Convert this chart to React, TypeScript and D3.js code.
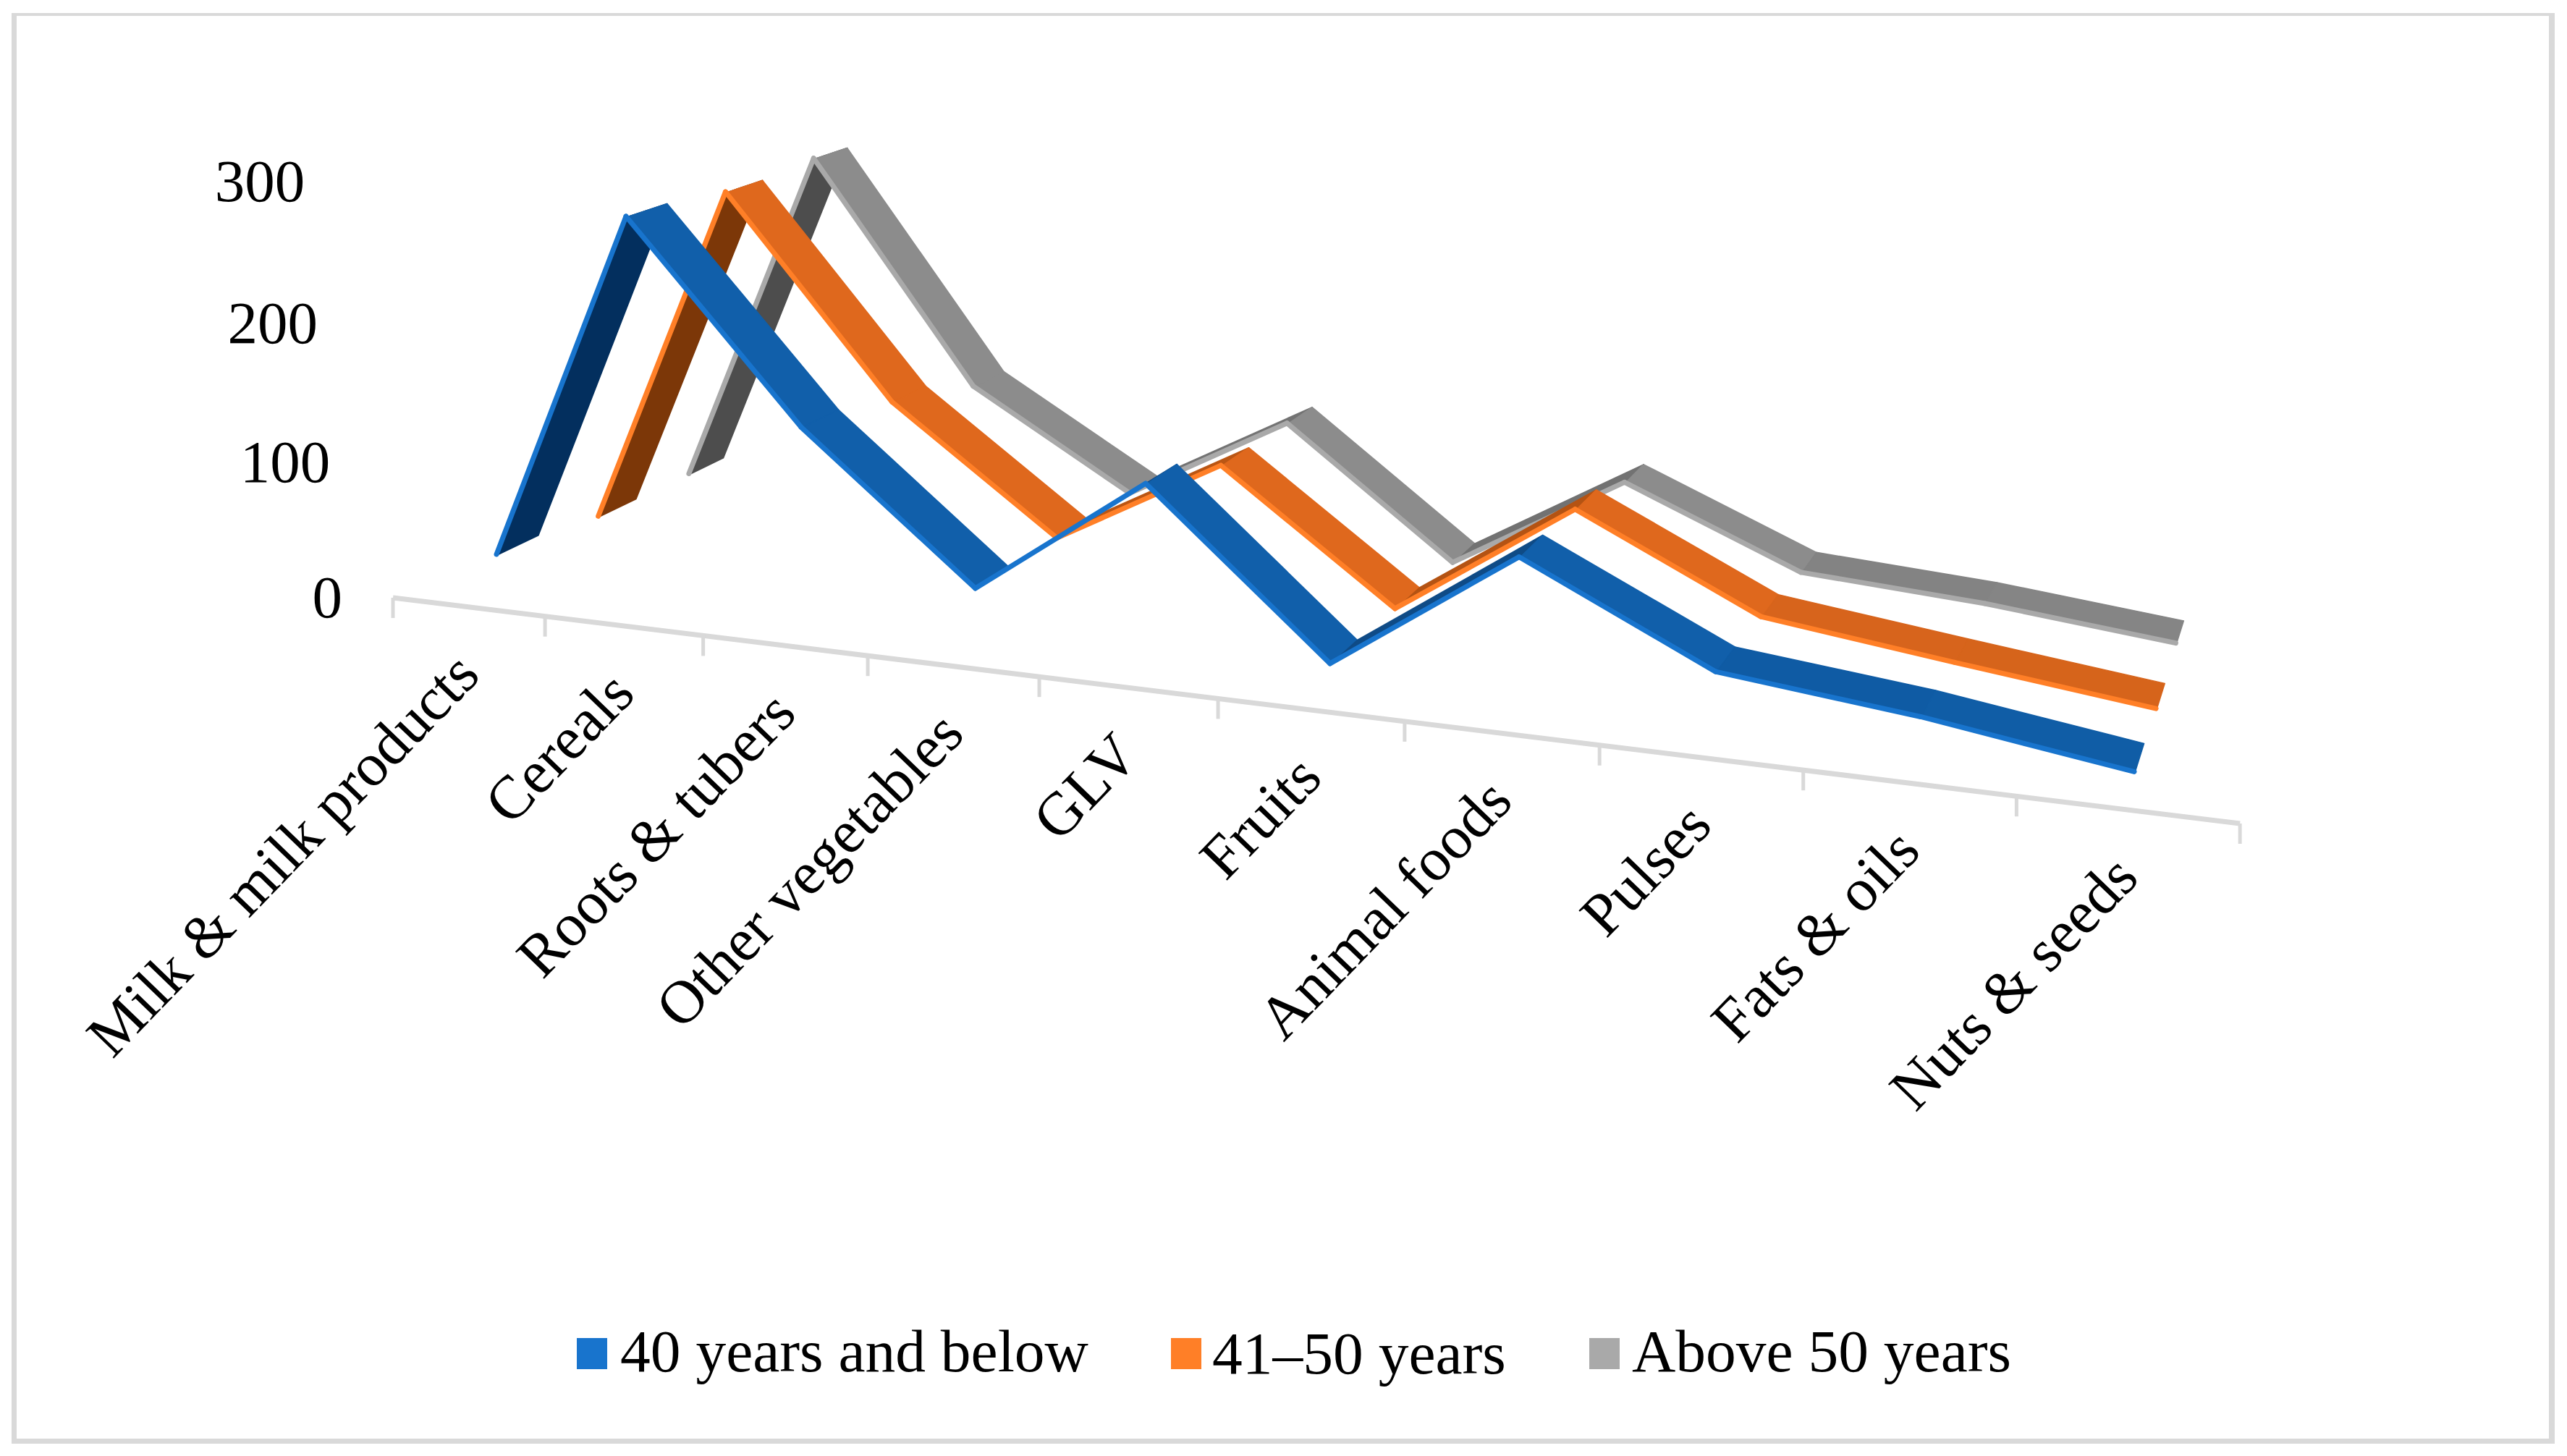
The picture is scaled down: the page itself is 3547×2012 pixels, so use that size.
import React from 'react';
import * as d3 from 'd3';

const categories = ['Milk & milk products', 'Cereals', 'Roots & tubers', 'Other vegetables', 'GLV', 'Fruits', 'Animal foods', 'Pulses', 'Fats & oils', 'Nuts & seeds'];
const under40 = [27, 280, 143, 42, 127, 18, 103, 42, 28, 9];
const from41to50 = [19, 274, 129, 40, 105, 15, 98, 37, 20, 4];
const above50 = [18, 277, 110, 38, 103, 10, 82, 29, 20, 6];
const valueTicks = [0, 100, 200, 300];

const W = 3547;
const H = 2012;

// hand fitted camera for the tilted chart: x = category, y = value, z = depth
const cam = {
  a: [543, 195.6, -0.2288, 72.7],
  b: [826, 9.28, -1.945, -11.76],
  c: [1, -0.01926, -0.0001144, 0.021],
};
const project = (x: number, y: number, z: number): [number, number] => {
  const w = cam.c[0] + cam.c[1] * x + cam.c[2] * y + cam.c[3] * z;
  return [
    (cam.a[0] + cam.a[1] * x + cam.a[2] * y + cam.a[3] * z) / w,
    (cam.b[0] + cam.b[1] * x + cam.b[2] * y + cam.b[3] * z) / w,
  ];
};

const xCat = d3.scaleBand<string>().domain(categories).range([0, categories.length]);

const series = [
  { name: 'Above 50 years', values: above50, z: 5.79, edge: '#A9A9A9', shades: ['#8C8C8C', '#8C8C8C', '#848484', '#6E6E6E', '#4D4D4D'] },
  { name: '41–50 years', values: from41to50, z: 3.28, edge: '#FF7F27', shades: ['#DF681D', '#DF681D', '#D4631B', '#B25212', '#7A3608'] },
  { name: '40 years and below', values: under40, z: 0.75, edge: '#1874CD', shades: ['#115FAA', '#115FAA', '#0F5BA3', '#0F4A85', '#032E5C'] },
];
const riseDomain = [-140, -30, -12, 90, 260];

const line = d3.line<[number, number]>();

const legendItems = [
  { name: '40 years and below', box: 797, text: 857, base: 1895, color: '#1874CD' },
  { name: '41–50 years', box: 1618, text: 1675, base: 1898, color: '#FF7F27' },
  { name: 'Above 50 years', box: 2196, text: 2255, base: 1895, color: '#A9A9A9' },
];

function Ribbon({ s }: { s: (typeof series)[number] }) {
  const shade = d3.scaleLinear<string>().domain(riseDomain).range(s.shades).clamp(true);
  const bw = xCat.bandwidth();
  const px = (i: number) => (xCat(categories[i]) as number) + bw / 2;
  return (
    <g>
      {s.values.slice(1).map((v, k) => {
        const y0 = s.values[k];
        const f0 = project(px(k), y0, s.z);
        const f1 = project(px(k + 1), v, s.z);
        const b0 = project(px(k), y0, s.z + 1);
        const b1 = project(px(k + 1), v, s.z + 1);
        const c = shade(v - y0);
        return (
          <g key={k}>
            <path d={line([f0, f1, b1, b0]) + 'Z'} fill={c} stroke={c} strokeWidth={1.5} strokeLinejoin="round" />
            <path d={line([f0, f1]) as string} fill="none" stroke={s.edge} strokeWidth={7} strokeLinecap="round" transform="translate(-1,-1)" />
          </g>
        );
      })}
    </g>
  );
}

export default function App() {
  const ticks = d3.range(categories.length + 1);
  return (
    <svg width={W} height={H} style={{ position: 'absolute', left: 0, top: 0, background: '#fff' }} fontFamily="'Liberation Serif'">
      {/* chart frame, top edge is thinner than the rest */}
      <path d="M16,18H3530V1995H16Z M23,22V1988H3522V22Z" fill="#D9D9D9" fillRule="evenodd" />

      {/* floor axis */}
      <path d={line([project(0, 0, 0), project(categories.length, 0, 0)]) as string} stroke="#D9D9D9" strokeWidth={7} fill="none" />
      {ticks.map(t => {
        const [tx, ty] = project(t, 0, 0);
        return <line key={t} x1={tx} x2={tx} y1={ty} y2={ty + 28} stroke="#D9D9D9" strokeWidth={5} />;
      })}

      {valueTicks.map(v => {
        const [tx, ty] = project(0, v, 0);
        return <text key={v} x={tx - 70} y={ty + 27} textAnchor="end" fontSize={83}>{v}</text>;
      })}

      {categories.map(c => {
        const [tx, ty] = project((xCat(c) as number) + xCat.bandwidth() / 2, 0, 0);
        return (
          <text key={c} transform={`translate(${tx + 19},${ty + 97}) rotate(-46)`} textAnchor="end" fontSize={84}>{c}</text>
        );
      })}

      {series.map(s => <Ribbon key={s.name} s={s} />)}

      {legendItems.map(l => (
        <g key={l.name}>
          <rect x={l.box} y={1849} width={42} height={43} fill={l.color} />
          <text x={l.text} y={l.base} fontSize={83.5}>{l.name}</text>
        </g>
      ))}
    </svg>
  );
}
